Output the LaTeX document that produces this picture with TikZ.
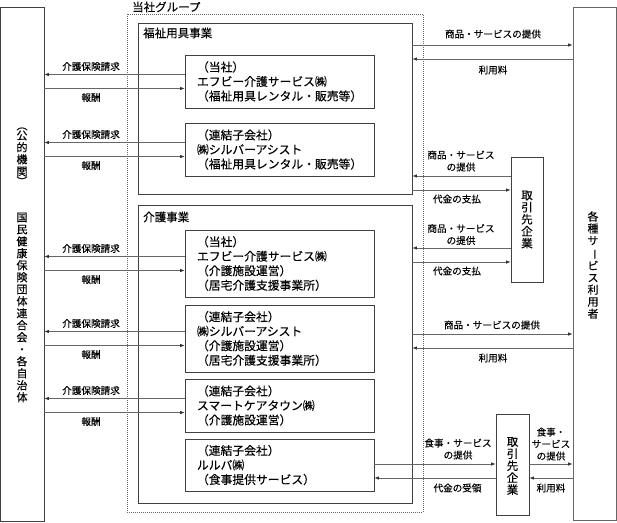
\documentclass[tikz,border=0pt]{standalone}
\usepackage{fontspec}
\setmainfont{Noto Sans CJK JP}[FakeBold=0.25]
\usetikzlibrary{arrows.meta,calc}
\begin{document}
\begin{tikzpicture}[x=1pt,y=-1pt,
  box/.style={draw=black!75, line width=0.8pt, inner sep=0pt},
  ibox/.style={box, minimum width=189pt, text width=165pt, align=left, font=\fontsize{11.8}{14.5}\selectfont},
  arr/.style={draw=black!60, line width=0.7pt, -{Latex[length=4.5pt,width=3.5pt,color=black!80]}},
  lbl/.style={font=\fontsize{9.6}{12}\selectfont, inner sep=0pt, align=center},
  ttl/.style={font=\fontsize{11.5}{12}\selectfont, inner sep=0pt, anchor=west},
  vtxt/.style={font=\fontsize{11}{12}\selectfont, inner sep=0pt, align=center},
]
\useasboundingbox (0,0) rectangle (617,522);

% outer boxes
\node[box, minimum width=43.5pt, minimum height=514pt] (L) at (22.25,264) {};
\node[box, draw=black!60, minimum width=43.5pt, minimum height=513pt] (R) at (594.75,263.5) {};

% group
\node[draw=black!60, line width=0.7pt, dash pattern=on 1pt off 1pt, minimum width=296pt, minimum height=498pt, inner sep=0pt] (G) at (275,263) {};
\node[ttl] (Gt) at (132,7) {当社グループ};

\node[box, minimum width=274pt, minimum height=171pt] (W) at (275,108.5) {};
\node[ttl] (Wt) at (143,33) {福祉用具事業};
\node[box, minimum width=274pt, minimum height=298pt] (C) at (275,354) {};
\node[ttl] (Ct) at (143,217) {介護事業};

% inner boxes
\node[ibox, minimum height=53pt] (B1) at (279.5,81.5) {（当社）\\エフビー介護サービス㈱\\（福祉用具レンタル・販売等）};
\node[ibox, minimum height=53pt] (B2) at (279.5,149.5) {（連結子会社）\\㈱シルバーアシスト\\（福祉用具レンタル・販売等）};
\node[ibox, minimum height=67pt] (B3) at (279.5,263.5) {（当社）\\エフビー介護サービス㈱\\（介護施設運営）\\（居宅介護支援事業所）};
\node[ibox, minimum height=67pt] (B4) at (279.5,338.5) {（連結子会社）\\㈱シルバーアシスト\\（介護施設運営）\\（居宅介護支援事業所）};
\node[ibox, minimum height=53pt] (B5) at (279.5,405.5) {（連結子会社）\\スマートケアタウン㈱\\（介護施設運営）};
\node[ibox, minimum height=52pt] (B6) at (279.5,465) {（連結子会社）\\ルルパ㈱\\（食事提供サービス）};

% suppliers
\node[box, minimum width=32pt, minimum height=125pt] (T1) at (527,219.5) {};
\node[vtxt, font=\fontsize{11.5}{12}\selectfont] (T1t) at (T1.center) {取\\引\\先\\企\\業};
\node[box, minimum width=33pt, minimum height=101pt] (T2) at (512.5,464.5) {};
\node[vtxt, font=\fontsize{11.5}{12}\selectfont] (T2t) at (512.5,466) {取\\引\\先\\企\\業};

% vertical texts
\node[vtxt] (Lv1) at (22,156.5) {︵\\[-2pt]公\\的\\機\\関\\[-2pt]︶};
\node[vtxt] (Lv2) at (22,307.5) {国\\民\\健\\康\\保\\険\\団\\体\\連\\合\\会\\・\\各\\自\\治\\体};
\node[vtxt] (Rv) at (593,265) {各\\種\\サ\\\rotatebox[origin=c]{-90}{ー}\\ビ\\ス\\利\\用\\者};

% left arrows
\foreach \b in {B1,B2,B3,B4,B5} {
  \coordinate (\b-a) at ([yshift=7pt]\b.west);
  \coordinate (\b-b) at ([yshift=-7pt]\b.west);
  \draw[arr] (\b-a) -- (\b-a -| L.east);
  \draw[arr] (\b-b -| L.east) -- (\b-b);
  \node[lbl] at ($(\b-a -| L.east)!0.5!(\b-a -| W.west) + (0,-8)$) {介護保険請求};
  \node[lbl] at ($(\b-b -| L.east)!0.5!(\b-b -| W.west) + (0,9)$) {報酬};
}

% welfare <-> users
\coordinate (wr1) at (W.east |- 0,45);
\coordinate (wr2) at (W.east |- 0,59);
\draw[arr] (wr1) -- (wr1 -| R.west);
\draw[arr] (wr2 -| R.west) -- (wr2);
\node[lbl] at (493,34) {商品・サービスの提供};
\node[lbl] at (493,70) {利用料};

% supplier1 <-> welfare
\coordinate (tw1) at (T1.west |- 0,176);
\coordinate (tw2) at (T1.west |- 0,190);
\draw[arr] (tw1) -- (tw1 -| W.east);
\draw[arr] (tw2 -| W.east) -- (tw2);
\node[lbl] at (461,161) {商品・サービス\\の提供};
\node[lbl] at (457,199) {代金の支払};

% supplier1 <-> care
\coordinate (tc1) at (T1.west |- 0,248);
\coordinate (tc2) at (T1.west |- 0,262);
\draw[arr] (tc1) -- (tc1 -| C.east);
\draw[arr] (tc2 -| C.east) -- (tc2);
\node[lbl] at (461,234.5) {商品・サービス\\の提供};
\node[lbl] at (457,271) {代金の支払};

% care <-> users
\coordinate (cr1) at (C.east |- 0,334);
\coordinate (cr2) at (C.east |- 0,348);
\draw[arr] (cr1) -- (cr1 -| R.west);
\draw[arr] (cr2 -| R.west) -- (cr2);
\node[lbl] at (492,325) {商品・サービスの提供};
\node[lbl] at (493,358) {利用料};

% B6 <-> supplier2
\coordinate (bt1) at (B6.east |- 0,464);
\coordinate (bt2) at (B6.east |- 0,478);
\draw[arr] (bt1) -- (bt1 -| T2.west);
\draw[arr] (bt2 -| T2.west) -- (bt2);
\node[lbl] at (458,449) {食事・サービス\\の提供};
\node[lbl] at (457.5,488) {代金の受領};

% supplier2 <-> users
\coordinate (tr1) at (T2.east |- 0,464);
\coordinate (tr2) at (T2.east |- 0,478);
\draw[arr] (tr1) -- (tr1 -| R.west);
\draw[arr] (tr2 -| R.west) -- (tr2);
\node[lbl] at (551,444) {食事・\\サービス\\の提供};
\node[lbl] at (551,488) {利用料};
\end{tikzpicture}
\end{document}
